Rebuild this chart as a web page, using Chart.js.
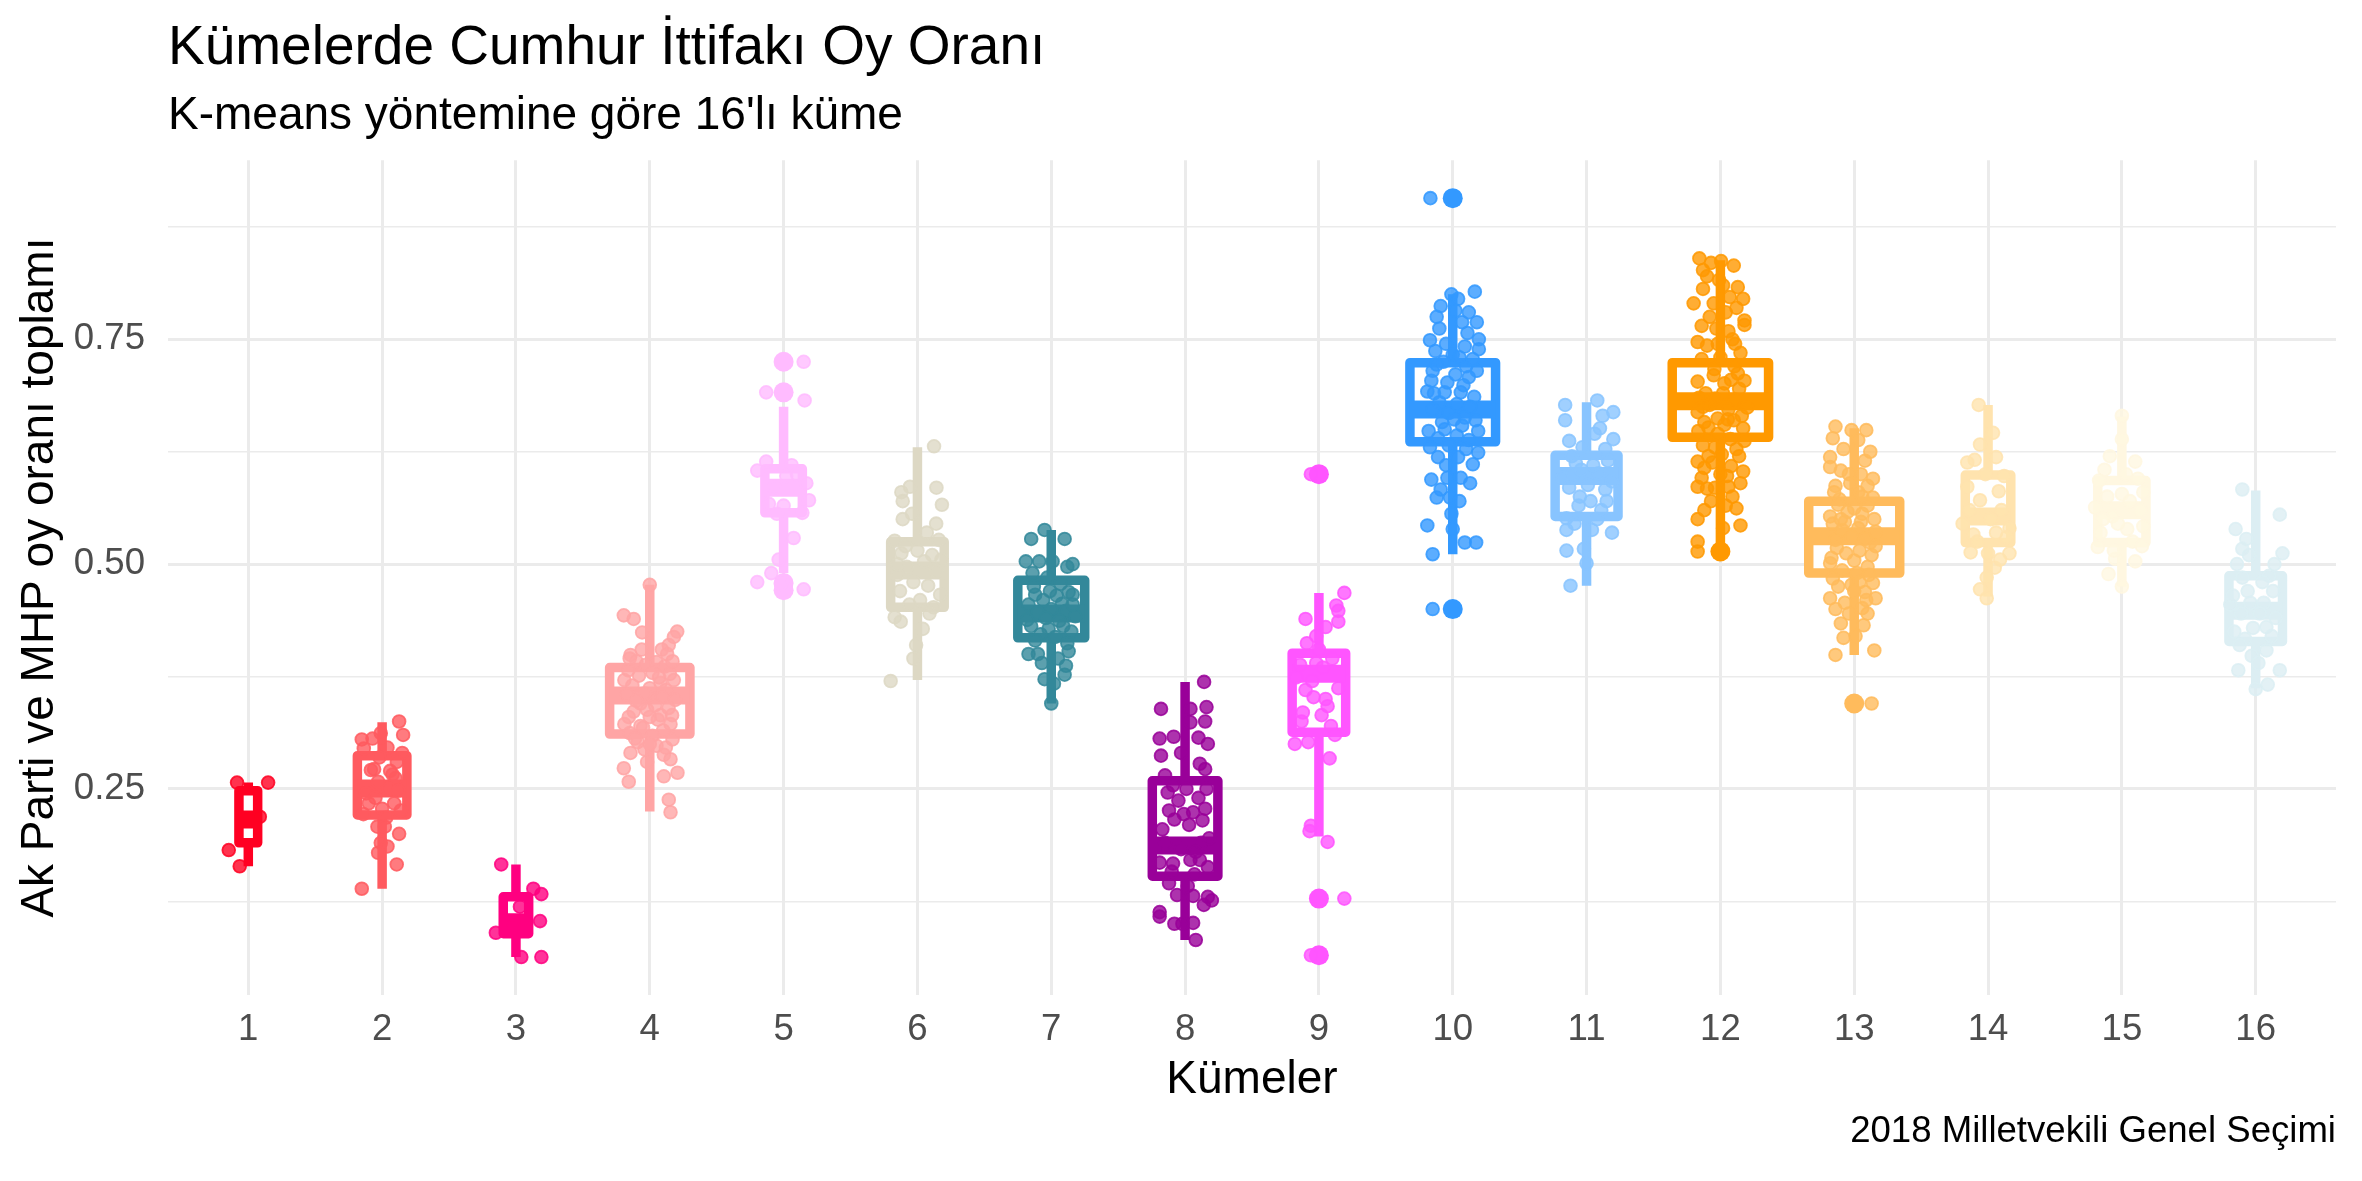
<!DOCTYPE html>
<html><head><meta charset="utf-8">
<script src="https://cdn.jsdelivr.net/npm/chart.js@4"></script>
<style>html,body{margin:0;padding:0;background:#fff}canvas{display:block}</style>
</head><body>
<canvas id="c" width="2362" height="1181"></canvas>
<script>
const titleText = 'Kümelerde Cumhur İttifakı Oy Oranı';
const subtitleText = "K-means yöntemine göre 16'lı küme";
const xTitle = 'Kümeler';
const yTitle = 'Ak Parti ve MHP oy oranı toplamı';
const captionText = '2018 Milletvekili Genel Seçimi';

const clusters = ['1','2','3','4','5','6','7','8','9','10','11','12','13','14','15','16'];
const colors = ['#FF0022','#FF5A5F','#FF0080','#FFA5A5','#FFBBFF','#DDD8C4','#33889A','#990099',
                '#FF55FF','#3399FF','#88C4FF','#FF9900','#FFBB5C','#FFE3AE','#FFF7E1','#DCEEF3'];
// varwidth box widths (category units)
const boxWidth = [0.14,0.37,0.19,0.60,0.28,0.40,0.50,0.49,0.40,0.64,0.47,0.72,0.68,0.34,0.36,0.40];
const q1          = [0.190,0.221,0.089,0.311,0.557,0.452,0.418,0.153,0.313,0.636,0.553,0.641,0.490,0.524,0.524,0.414];
const median      = [0.216,0.2505,0.1016,0.354,0.585,0.493,0.445,0.187,0.378,0.672,0.598,0.681,0.531,0.553,0.560,0.448];
const q3          = [0.248,0.287,0.130,0.385,0.606,0.525,0.482,0.259,0.401,0.724,0.621,0.724,0.570,0.599,0.593,0.487];
const whiskerLow  = [0.164,0.139,0.063,0.225,0.490,0.371,0.345,0.082,0.197,0.511,0.476,0.516,0.399,0.464,0.475,0.362];
const whiskerHigh = [0.257,0.324,0.166,0.477,0.675,0.630,0.538,0.369,0.468,0.800,0.680,0.838,0.651,0.677,0.664,0.582];
const outliers = [[],[],[],[],[0.725,0.691,0.479,0.471],[],[],[],[0.600,0.128,0.065],[0.907,0.450],[],[0.514],[0.345],[],[],[]];

// jittered observations: [horizontal jitter offset, value]
const pts01 = [[-0.084,0.257],[0.148,0.257],[0.086,0.219],[-0.146,0.182],[-0.064,0.164]];
const pts02 = [[0.127,0.325],[0.157,0.310],[-0.152,0.305],[-0.072,0.306],[-0.010,0.312],[-0.137,0.295],[0.04,0.296],[0.15,0.290],[-0.084,0.271],[-0.06,0.272],[0.078,0.266],[0.1,0.262],[-0.03,0.258],[0.05,0.25],[-0.12,0.245],[0.12,0.248],[-0.05,0.24],[0.09,0.234],[-0.1,0.234],[0.0,0.228],[0.14,0.226],[-0.14,0.222],[0.03,0.218],[-0.035,0.208],[0.02,0.208],[0.127,0.200],[-0.01,0.190],[0.04,0.186],[-0.03,0.179],[0.109,0.166],[-0.152,0.139],[0.06,0.27],[-0.02,0.285],[0.11,0.28]];
const pts03 = [[-0.11,0.166],[0.13,0.139],[0.19,0.133],[0.03,0.119],[0.18,0.103],[-0.15,0.090],[0.04,0.063],[0.19,0.063],[-0.02,0.097]];
const pts04 = [[0,0.477],[-0.194,0.443],[-0.12,0.439],[-0.057,0.424],[0.205,0.425],[0.18,0.419],[0.142,0.410],[0.09,0.405],[-0.144,0.399],[-0.06,0.405],[0.13,0.400],[-0.19,0.371],[0.18,0.371],[0.08,0.368],[-0.07,0.345],[-0.157,0.330],[-0.19,0.322],[0.0,0.330],[0.167,0.332],[0.155,0.322],[-0.07,0.320],[-0.144,0.290],[-0.02,0.280],[0.105,0.288],[0.155,0.283],[-0.194,0.273],[-0.157,0.258],[0.105,0.264],[0.207,0.268],[0.142,0.238],[0.155,0.224],
  [-0.1,0.392],[-0.03,0.388],[0.05,0.391],[0.11,0.386],[-0.16,0.382],[0.02,0.379],[0.15,0.378],[-0.08,0.376],[0.07,0.374],[-0.13,0.365],[0.0,0.362],[0.12,0.360],[-0.04,0.356],[0.09,0.352],[-0.17,0.355],[0.19,0.349],[-0.1,0.348],[0.04,0.343],[-0.02,0.338],[0.14,0.340],[-0.12,0.336],[0.06,0.327],[-0.05,0.318],[0.1,0.315],[-0.15,0.312],[0.02,0.309],[0.17,0.305],[-0.09,0.302],[0.05,0.298],[-0.04,0.294],[0.12,0.296],[-0.11,0.306],[0.0,0.300],[0.08,0.332],[-0.15,0.395],[0.17,0.392]];
const pts05 = [[0.15,0.725],[-0.13,0.691],[0.157,0.682],[-0.13,0.614],[-0.197,0.604],[0.06,0.610],[0.17,0.590],[0.19,0.571],[-0.11,0.567],[0.0,0.565],[-0.05,0.556],[0.14,0.557],[0.075,0.529],[-0.037,0.505],[-0.092,0.490],[-0.197,0.480],[0.15,0.472],[0.02,0.598],[-0.07,0.585],[0.1,0.600],[-0.02,0.478]];
const pts06 = [[0.124,0.631],[-0.056,0.586],[-0.12,0.580],[0.142,0.585],[0.183,0.566],[-0.11,0.570],[-0.11,0.550],[0.14,0.545],[-0.04,0.556],[-0.17,0.526],[0.16,0.527],[-0.12,0.512],[0.11,0.510],[-0.08,0.497],[0.05,0.503],[0.14,0.492],[-0.15,0.488],[0.0,0.515],[-0.03,0.480],[0.08,0.476],[-0.13,0.470],[0.17,0.466],[0.02,0.460],[-0.06,0.455],[0.12,0.452],[-0.17,0.441],[-0.125,0.436],[0.04,0.428],[-0.01,0.410],[-0.03,0.395],[-0.2,0.370],[0.09,0.445],[-0.09,0.520],[0.07,0.535],[-0.15,0.500],[0.18,0.505]];
const pts07 = [[-0.05,0.538],[-0.15,0.528],[0.10,0.528],[-0.19,0.503],[-0.09,0.503],[0.01,0.503],[0.16,0.500],[0.12,0.497],[-0.14,0.490],[-0.03,0.485],[0.13,0.469],[-0.12,0.466],[0.04,0.465],[-0.06,0.460],[0.16,0.466],[0.08,0.456],[-0.17,0.455],[0.0,0.450],[0.11,0.448],[-0.1,0.446],[0.18,0.442],[-0.04,0.440],[0.06,0.437],[-0.15,0.431],[-0.02,0.428],[0.09,0.431],[0.15,0.425],[-0.08,0.422],[0.03,0.419],[-0.12,0.415],[0.12,0.412],[-0.17,0.400],[-0.10,0.400],[0.13,0.403],[0.11,0.387],[0.10,0.377],[-0.05,0.372],[0.02,0.367],[0.0,0.345],[-0.07,0.39],[0.05,0.395],[-0.13,0.475],[0.07,0.478],[-0.18,0.438],[0.16,0.455],[-0.01,0.47]];
const pts08 = [[0.142,0.369],[-0.18,0.339],[0.04,0.339],[0.16,0.341],[0.15,0.325],[0.04,0.324],[-0.19,0.306],[-0.085,0.308],[0.10,0.307],[0.17,0.300],[-0.18,0.287],[0.11,0.278],[0.15,0.272],[-0.09,0.254],[0.01,0.250],[0.16,0.250],[-0.13,0.246],[-0.05,0.237],[0.15,0.228],[-0.01,0.222],[0.06,0.224],[-0.12,0.226],[0.13,0.215],[-0.08,0.216],[-0.17,0.205],[0.03,0.210],[-0.19,0.168],[-0.09,0.167],[0.04,0.171],[0.11,0.171],[0.17,0.163],[-0.1,0.158],[0.07,0.155],[-0.06,0.132],[0.06,0.131],[0.17,0.130],[0.2,0.126],[0.14,0.121],[-0.19,0.113],[-0.19,0.108],[-0.08,0.100],[-0.02,0.100],[0.06,0.101],[0.08,0.082],[-0.15,0.19],[0.12,0.19],[-0.03,0.183],[0.08,0.18],[-0.12,0.145],[0.02,0.142],[0.1,0.24],[-0.15,0.265],[-0.03,0.29],[0.18,0.195]];
const pts09 = [[-0.06,0.600],[0.19,0.128],[-0.06,0.065],[0.19,0.468],[0.13,0.454],[0.145,0.448],[-0.10,0.439],[0.145,0.436],[0.05,0.430],[-0.09,0.412],[0.0,0.405],[-0.17,0.374],[0.145,0.362],[-0.04,0.352],[0.065,0.342],[-0.12,0.335],[0.02,0.332],[-0.13,0.325],[-0.18,0.300],[-0.08,0.302],[0.08,0.284],[-0.06,0.209],[-0.07,0.203],[0.065,0.191],[-0.02,0.39],[0.1,0.395],[-0.14,0.388],[0.03,0.385],[-0.05,0.37],[0.09,0.32],[-0.1,0.36],[0.12,0.31],[0.05,0.35],[-0.02,0.42]];
const pts10 = [[-0.167,0.907],[-0.15,0.450],[0.165,0.803],[-0.01,0.800],[-0.09,0.787],[0.02,0.782],[0.07,0.769],[0.18,0.769],[-0.10,0.762],[0.11,0.757],[0.195,0.750],[-0.17,0.749],[-0.05,0.745],[0.09,0.742],[0.195,0.739],[-0.13,0.737],[0.0,0.733],[-0.15,0.715],[0.02,0.711],[0.18,0.715],[0.12,0.708],[-0.16,0.704],[-0.19,0.692],[-0.06,0.691],[0.06,0.691],[0.16,0.686],[-0.1,0.68],[0.03,0.678],[0.13,0.675],[-0.15,0.672],[-0.03,0.668],[0.09,0.663],[-0.18,0.648],[-0.06,0.650],[0.07,0.654],[0.19,0.648],[-0.11,0.640],[0.03,0.643],[0.12,0.638],[-0.03,0.632],[0.19,0.624],[-0.11,0.619],[0.04,0.619],[0.15,0.611],[-0.16,0.594],[-0.04,0.596],[0.06,0.596],[-0.12,0.574],[-0.02,0.574],[-0.19,0.543],[0.0,0.539],[0.09,0.524],[0.175,0.524],[-0.15,0.511],[0.1,0.72],[-0.07,0.725],[0.05,0.73],[-0.12,0.722],[0.15,0.728],[-0.04,0.702],[0.08,0.699],[-0.14,0.69],[0.17,0.66],[-0.08,0.658],[0.01,0.661],[-0.17,0.63],[0.1,0.628],[-0.05,0.61],[0.13,0.59],[-0.09,0.583],[0.05,0.57],[-0.01,0.556],[0.12,0.78],[-0.12,0.775],[0.04,0.795]];
const pts11 = [[0.08,0.682],[-0.16,0.677],[0.20,0.669],[0.12,0.665],[-0.16,0.660],[0.10,0.651],[0.20,0.639],[-0.13,0.637],[0.14,0.628],[-0.11,0.620],[-0.18,0.596],[0.19,0.592],[0.09,0.601],[0.01,0.588],[0.14,0.583],[-0.05,0.575],[-0.06,0.565],[-0.15,0.551],[0.19,0.535],[-0.15,0.538],[0.04,0.538],[-0.15,0.515],[-0.02,0.517],[0.0,0.501],[-0.12,0.476],[0.05,0.61],[-0.08,0.612],[0.16,0.615],[-0.03,0.63],[0.06,0.645],[-0.1,0.6],[0.03,0.57],[0.11,0.56],[-0.09,0.545],[0.08,0.55],[-0.13,0.585],[0.15,0.57],[-0.04,0.605]];
const pts12 = [[-0.157,0.840],[0.005,0.837],[0.10,0.832],[-0.13,0.827],[-0.07,0.835],[-0.01,0.816],[-0.13,0.806],[-0.20,0.790],[0.07,0.797],[0.17,0.795],[0.12,0.785],[0.18,0.771],[0.18,0.766],[-0.03,0.762],[0.06,0.759],[-0.17,0.747],[-0.1,0.743],[-0.02,0.745],[0.15,0.735],[0.105,0.720],[-0.045,0.717],[-0.17,0.703],[0.18,0.704],[0.03,0.701],[-0.17,0.669],[-0.08,0.677],[0.105,0.683],[0.2,0.674],[-0.12,0.658],[0.055,0.661],[0.17,0.651],[-0.165,0.648],[-0.02,0.645],[0.18,0.637],[0.075,0.639],[-0.17,0.614],[-0.06,0.613],[0.14,0.620],[0.08,0.609],[0.17,0.603],[-0.12,0.607],[-0.17,0.586],[-0.1,0.584],[-0.04,0.585],[0.06,0.586],[0.09,0.575],[-0.17,0.550],[0.15,0.543],[-0.17,0.525],[-0.17,0.514],
  [-0.14,0.728],[0.0,0.730],[0.13,0.712],[-0.05,0.71],[0.08,0.705],[-0.11,0.69],[0.02,0.69],[0.14,0.695],[-0.16,0.685],[-0.04,0.684],[0.06,0.672],[-0.13,0.675],[0.16,0.665],[-0.02,0.662],[0.1,0.66],[-0.09,0.652],[0.03,0.655],[-0.04,0.63],[0.12,0.628],[-0.13,0.632],[0.01,0.622],[-0.09,0.62],[0.05,0.598],[-0.14,0.596],[0.15,0.59],[0.0,0.6],[-0.07,0.57],[0.04,0.565],[0.12,0.562],[-0.12,0.56],[0.02,0.54],[-0.08,0.775],[0.04,0.78],[-0.14,0.765],[0.09,0.75],[-0.05,0.79],[0.13,0.808],[-0.1,0.82],[0.02,0.81],[0.11,0.745]];
const pts13 = [[0.13,0.345],[-0.14,0.653],[-0.02,0.649],[0.09,0.649],[-0.16,0.640],[0.03,0.638],[-0.18,0.619],[-0.18,0.608],[-0.1,0.604],[0.08,0.615],[0.05,0.600],[0.14,0.595],[-0.14,0.587],[0.10,0.587],[0.14,0.574],[-0.11,0.572],[-0.18,0.553],[0.15,0.550],[-0.07,0.547],[0.05,0.547],[-0.14,0.527],[0.12,0.524],[-0.18,0.501],[0.0,0.504],[0.10,0.497],[-0.16,0.484],[-0.02,0.477],[0.14,0.479],[0.08,0.469],[-0.18,0.462],[-0.07,0.457],[0.06,0.451],[-0.1,0.434],[0.07,0.432],[-0.14,0.399],[0.15,0.404],
  [-0.12,0.566],[0.0,0.562],[0.1,0.565],[-0.05,0.558],[0.06,0.556],[-0.16,0.545],[0.03,0.54],[-0.09,0.538],[0.16,0.536],[-0.02,0.53],[0.08,0.528],[-0.13,0.518],[0.04,0.515],[-0.06,0.512],[0.13,0.51],[-0.17,0.507],[0.02,0.49],[-0.09,0.493],[0.11,0.488],[-0.12,0.475],[0.04,0.48],[0.16,0.462],[-0.04,0.445],[0.01,0.42],[-0.08,0.418],[0.1,0.445],[-0.15,0.58],[0.03,0.58],[-0.04,0.6],[0.12,0.625],[-0.08,0.628],[0.16,0.52],[-0.1,0.55],[0.06,0.575],[-0.03,0.59],[0.09,0.46],[-0.14,0.45],[0.0,0.47]];
const pts14 = [[-0.07,0.677],[0.037,0.646],[-0.06,0.633],[0.06,0.619],[-0.10,0.616],[-0.155,0.613],[-0.155,0.586],[0.08,0.581],[-0.06,0.571],[-0.19,0.545],[-0.11,0.533],[0.06,0.535],[0.16,0.540],[-0.13,0.513],[0.0,0.512],[0.16,0.512],[0.05,0.496],[-0.01,0.485],[-0.06,0.472],[-0.01,0.462],[0.12,0.598],[-0.02,0.6],[0.1,0.56],[-0.14,0.56],[0.02,0.55],[-0.08,0.525],[0.14,0.53],[0.09,0.505]];
const pts15 = [[0.0,0.665],[0.0,0.639],[-0.09,0.620],[0.10,0.614],[-0.13,0.605],[-0.17,0.593],[0.16,0.580],[0.0,0.578],[-0.20,0.563],[0.16,0.542],[0.04,0.539],[-0.16,0.535],[-0.07,0.553],[-0.18,0.519],[-0.05,0.506],[0.10,0.503],[-0.10,0.489],[0.0,0.475],[0.12,0.595],[0.06,0.57],[-0.11,0.575],[0.14,0.56],[-0.03,0.545],[0.08,0.525],[-0.14,0.55],[0.03,0.6],[0.15,0.52],[-0.06,0.515]];
const pts16 = [[-0.10,0.583],[0.18,0.555],[-0.15,0.539],[-0.07,0.528],[-0.10,0.517],[-0.05,0.510],[0.20,0.512],[-0.14,0.500],[0.14,0.500],[-0.10,0.485],[0.10,0.487],[0.13,0.470],[-0.19,0.455],[-0.04,0.457],[0.06,0.457],[-0.02,0.429],[0.08,0.430],[-0.16,0.425],[-0.08,0.417],[0.08,0.404],[-0.12,0.410],[-0.03,0.398],[-0.13,0.382],[0.18,0.382],[0.0,0.361],[0.09,0.366],[0.03,0.445],[-0.11,0.445],[0.15,0.44],[-0.06,0.47],[0.05,0.48],[0.12,0.42],[-0.17,0.465],[0.02,0.39]];
const jitterSets = [pts01,pts02,pts03,pts04,pts05,pts06,pts07,pts08,pts09,pts10,pts11,pts12,pts13,pts14,pts15,pts16];

const yMajorTicks = [0.25, 0.5, 0.75];
const yTickLabels = ['0.25', '0.50', '0.75'];
const yMinorTicks = [0.125, 0.375, 0.625, 0.875];

const FONT = "'Liberation Sans', Arial, Helvetica, sans-serif";
function rgba(hex, a) {
  const n = parseInt(hex.slice(1), 16);
  return `rgba(${(n>>16)&255},${(n>>8)&255},${n&255},${a})`;
}

const allValues = jitterSets.flat().map(p => p[1]).concat(outliers.flat());
const dataMin = Math.min(...allValues), dataMax = Math.max(...allValues);
const pad = (dataMax - dataMin) * 0.05;

const datasets = [];
clusters.forEach((c, i) => {
  const x = i + 1, hw = boxWidth[i] / 2, col = colors[i];
  datasets.push({
    type: 'line', xAxisID: 'x', yAxisID: 'y',
    data: [{x, y: whiskerHigh[i]}, {x, y: q3[i]}, {x, y: null}, {x, y: q1[i]}, {x, y: whiskerLow[i]}],
    borderColor: col, borderWidth: 9.5, borderCapStyle: 'butt', pointRadius: 0, spanGaps: false, fill: false, order: 6
  });
  datasets.push({
    type: 'line', xAxisID: 'x', yAxisID: 'y',
    data: [{x, y: q1[i]}, {x: x + hw, y: q1[i]}, {x: x + hw, y: q3[i]}, {x: x - hw, y: q3[i]}, {x: x - hw, y: q1[i]}, {x, y: q1[i]}],
    borderColor: col, borderWidth: 9.5, borderJoinStyle: 'round', borderCapStyle: 'butt',
    backgroundColor: '#ffffff', fill: 'shape', pointRadius: 0, tension: 0, order: 5
  });
  datasets.push({
    type: 'line', xAxisID: 'x', yAxisID: 'y',
    data: [{x: x - hw, y: median[i]}, {x: x + hw, y: median[i]}],
    borderColor: col, borderWidth: 18, borderCapStyle: 'butt', pointRadius: 0, fill: false, order: 4
  });
  if (outliers[i].length) {
    datasets.push({
      type: 'scatter', xAxisID: 'x', yAxisID: 'y',
      data: outliers[i].map(y => ({x, y})),
      backgroundColor: col, borderWidth: 0, pointRadius: 10, order: 2
    });
  }
  datasets.push({
    type: 'scatter', xAxisID: 'x', yAxisID: 'y',
    data: jitterSets[i].map(p => ({x: x + p[0], y: p[1]})),
    backgroundColor: rgba(col, 0.8), borderColor: rgba(col, 0.85), borderWidth: 1.8, pointRadius: 6.4, order: 1
  });
});

new Chart(document.getElementById('c'), {
  type: 'scatter',
  data: { datasets },
  options: {
    responsive: false, animation: false, events: [],
    layout: { padding: { top: 0, left: 0, right: 26, bottom: 0 } },
    plugins: {
      legend: { display: false },
      tooltip: { enabled: false },
      title: { display: true, text: titleText, align: 'start', fullSize: false, color: '#000',
               font: { family: FONT, size: 55, weight: 'normal' }, padding: { top: 16, bottom: 0 } },
      subtitle: { display: true, text: subtitleText, align: 'start', fullSize: false, color: '#000',
               font: { family: FONT, size: 46, weight: 'normal' }, padding: { top: 7, bottom: 16 } }
    },
    scales: {
      x: {
        type: 'linear', position: 'bottom', weight: 0, min: 0.4, max: 16.6,
        afterBuildTicks: a => { a.ticks = clusters.map((c, i) => ({ value: i + 1 })); },
        ticks: { autoSkip: false, maxRotation: 0, padding: 13, color: '#4D4D4D',
                 font: { family: FONT, size: 36.6 },
                 callback: v => clusters[Math.round(v) - 1] },
        grid: { color: '#EBEBEB', lineWidth: 3, drawTicks: false },
        border: { display: false },
        title: { display: true, text: xTitle, color: '#000', font: { family: FONT, size: 46 },
                 padding: { top: 0, bottom: 7 } },
        afterFit: s => { s.height = 120; }
      },
      cap: {
        type: 'linear', position: 'bottom', weight: 1, min: 0, max: 1,
        ticks: { display: false }, grid: { display: false, drawTicks: false }, border: { display: false },
        title: { display: true, text: captionText, align: 'end', color: '#000',
                 font: { family: FONT, size: 36.6 }, padding: { top: 0, bottom: 27 } },
        afterFit: s => { s.height = 66; }
      },
      y: {
        type: 'linear', position: 'left', min: dataMin - pad, max: dataMax + pad,
        afterBuildTicks: a => { a.ticks = yMinorTicks.concat(yMajorTicks).sort((p, q) => p - q).map(v => ({ value: v })); },
        ticks: { padding: 23, color: '#4D4D4D', font: { family: FONT, size: 36.6 },
                 callback: v => { const k = yMajorTicks.findIndex(t => Math.abs(t - v) < 1e-9); return k >= 0 ? yTickLabels[k] : ''; } },
        grid: { color: '#EBEBEB', drawTicks: false,
                lineWidth: ctx => (ctx.tick && yMajorTicks.some(t => Math.abs(t - ctx.tick.value) < 1e-9)) ? 3 : 1.6 },
        border: { display: false },
        title: { display: true, text: yTitle, color: '#000', font: { family: FONT, size: 46 },
                 padding: { top: 13, bottom: 0 } },
        afterFit: s => { s.width = 168; }
      }
    }
  }
});
</script>
</body></html>
